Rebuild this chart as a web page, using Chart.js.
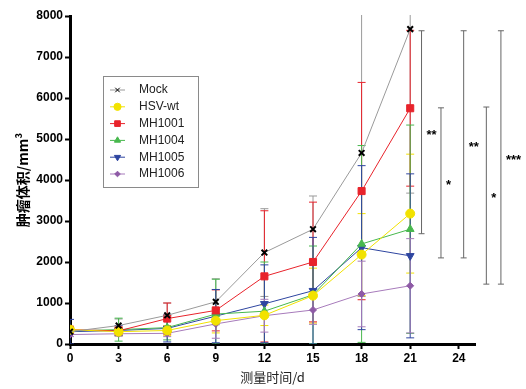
<!DOCTYPE html>
<html>
<head>
<meta charset="utf-8">
<script src="https://cdn.jsdelivr.net/npm/chart.js@4.4.1/dist/chart.umd.min.js"></script>
<style>
  body { margin: 0; background: #fff; }
  #wrap { position: relative; width: 526px; height: 389px; }
</style>
</head>
<body>
<div id="wrap"><canvas id="tumorChart" width="526" height="389"></canvas></div>
<script>
// days of measurement
const days = [0, 3, 6, 9, 12, 15, 18, 21];
const xTicks = [0, 3, 6, 9, 12, 15, 18, 21, 24];

// mean tumour volume (mm3) per group
const mock   = [300, 450, 700, 1030, 2230, 2800, 4660, 7680];
const hsvWt  = [350, 300, 330, 570, 700, 1180, 2180, 3180];
const mh1001 = [350, 320, 620, 820, 1650, 2000, 3730, 5750];
const mh1004 = [320, 350, 400, 730, 800, 1200, 2440, 2800];
const mh1005 = [300, 330, 380, 680, 980, 1300, 2350, 2150];
const mh1006 = [230, 250, 260, 490, 690, 830, 1220, 1420];

// standard deviations
const mockSd   = [60, 160, 300, 560, 1070, 810, 3500, 4000];
const hsvWtSd  = [50, 100, 120, 300, 250, 670, 1000, 1450];
const mh1001Sd = [80, 100, 380, 500, 1600, 1460, 2650, 1900];
const mh1004Sd = [60, 280, 300, 850, 1200, 1190, 2400, 2540];
const mh1005Sd = [300, 120, 330, 650, 950, 1300, 2000, 2000];
const mh1006Sd = [50, 60, 80, 350, 400, 350, 800, 1150];

// significance brackets (x in days, y in mm3)
const sigX      = [21.7, 22.9, 24.3, 25.7, 26.6];
const sigTop    = [7640, 5760, 7640, 5780, 7640];
const sigBottom = [2690, 2100, 2100, 1460, 1460];
const sigLabel  = ["**", "*", "**", "*", "***"];

const groups = [
  { label: "Mock",   values: mock,   sd: mockSd,   line: "#9a9a9a", mark: "#000000", style: "crossRot", r: 4 },
  { label: "HSV-wt", values: hsvWt,  sd: hsvWtSd,  line: "#f2e200", mark: "#f2e200", style: "circle",   r: 4.5 },
  { label: "MH1001", values: mh1001, sd: mh1001Sd, line: "#e8232b", mark: "#e8232b", style: "rect",     r: 5 },
  { label: "MH1004", values: mh1004, sd: mh1004Sd, line: "#48b84e", mark: "#48b84e", style: "triangle", r: 4.5 },
  { label: "MH1005", values: mh1005, sd: mh1005Sd, line: "#2e45a0", mark: "#2e45a0", style: "triangle", r: 4.5, rot: 180 },
  { label: "MH1006", values: mh1006, sd: mh1006Sd, line: "#a77bbb", mark: "#8e5aa6", style: "rectRot",  r: 3.5 }
];

const datasets = groups.map(g => ({
  label: g.label,
  data: days.map((d, i) => ({ x: d, y: g.values[i] })),
  sd: g.sd,
  borderColor: g.line,
  backgroundColor: g.mark,
  pointBorderColor: g.mark,
  pointBackgroundColor: g.mark,
  pointStyle: g.style,
  pointRadius: g.r,
  pointRotation: g.rot || 0,
  pointBorderWidth: g.style === "crossRot" ? 2 : 1,
  borderWidth: 1,
  tension: 0
}));

// error bars under the points
const errorBars = {
  id: "errorBars",
  beforeDatasetsDraw(chart) {
    const { ctx, chartArea, scales: { x, y } } = chart;
    ctx.save();
    ctx.beginPath();
    ctx.rect(chartArea.left, chartArea.top - 1, chartArea.width, chartArea.height + 1);
    ctx.clip();
    chart.data.datasets.forEach(ds => {
      ctx.strokeStyle = ds.borderColor;
      ctx.lineWidth = 1;
      ds.data.forEach((p, i) => {
        const px = x.getPixelForValue(p.x);
        const top = y.getPixelForValue(p.y + ds.sd[i]);
        const bot = y.getPixelForValue(Math.max(0, p.y - ds.sd[i]));
        ctx.beginPath();
        ctx.moveTo(px, top); ctx.lineTo(px, bot);
        ctx.moveTo(px - 4, top); ctx.lineTo(px + 4, top);
        ctx.moveTo(px - 4, bot); ctx.lineTo(px + 4, bot);
        ctx.stroke();
      });
    });
    ctx.restore();
  }
};

// legend box and significance brackets
const extras = {
  id: "extras",
  afterDraw(chart) {
    const { ctx, scales: { x, y } } = chart;
    ctx.save();
    // legend
    ctx.strokeStyle = "#8a8a8a";
    ctx.lineWidth = 1;
    ctx.strokeRect(103.5, 76.5, 95, 111);
    ctx.font = "12px 'Liberation Sans', Arial, sans-serif";
    ctx.textBaseline = "middle";
    chart.data.datasets.forEach((ds, i) => {
      const ly = 90 + i * 16.8;
      ctx.strokeStyle = ds.borderColor;
      ctx.lineWidth = 1;
      ctx.beginPath(); ctx.moveTo(110, ly); ctx.lineTo(125, ly); ctx.stroke();
      ctx.fillStyle = ds.pointBackgroundColor;
      ctx.strokeStyle = ds.pointBorderColor;
      Chart.helpers.drawPoint(ctx, {
        pointStyle: ds.pointStyle, radius: ds.pointRadius * 0.8, rotation: ds.pointRotation,
        borderWidth: ds.pointBorderWidth
      }, 117.5, ly);
      ctx.fillStyle = "#222";
      ctx.fillText(ds.label, 139, ly);
    });
    // significance brackets
    ctx.strokeStyle = "#666";
    ctx.lineWidth = 1;
    ctx.fillStyle = "#000";
    ctx.font = "bold 13px 'Liberation Sans', Arial, sans-serif";
    ctx.textAlign = "left";
    sigX.forEach((sx, i) => {
      const px = x.getPixelForValue(sx);
      const t = y.getPixelForValue(sigTop[i]);
      const b = y.getPixelForValue(sigBottom[i]);
      ctx.beginPath();
      ctx.moveTo(px, t); ctx.lineTo(px, b);
      ctx.moveTo(px - 3, t); ctx.lineTo(px + 3, t);
      ctx.moveTo(px - 3, b); ctx.lineTo(px + 3, b);
      ctx.stroke();
      ctx.fillText(sigLabel[i], px + 5, (t + b) / 2 + 3);
    });
    ctx.restore();
  }
};

new Chart(document.getElementById("tumorChart"), {
  type: "line",
  data: { datasets },
  plugins: [errorBars, extras],
  options: {
    responsive: false,
    animation: false,
    layout: { padding: { top: 16, right: 51, left: 10, bottom: 0 } },
    plugins: { legend: { display: false }, tooltip: { enabled: false } },
    scales: {
      x: {
        type: "linear",
        min: 0,
        max: 25,
        afterBuildTicks: s => { s.ticks = xTicks.map(v => ({ value: v })); },
        ticks: { color: "#000", font: { size: 12, weight: "bold", family: "'Liberation Sans', Arial" }, padding: 2 },
        grid: { drawOnChartArea: false, tickLength: 5, tickWidth: 2, tickColor: "#000" },
        border: { color: "#000", width: 3 },
        title: { display: true, text: "测量时间/d", color: "#222", font: { size: 13, family: "'Noto Sans CJK SC'" }, padding: { top: 6 } },
        afterFit: s => { s.height = 45; }
      },
      y: {
        min: 0,
        max: 8000,
        ticks: { stepSize: 1000, color: "#000", font: { size: 12, weight: "bold", family: "'Liberation Sans', Arial" }, padding: 2, callback: v => String(v) },
        grid: { drawOnChartArea: false, tickLength: 5, tickWidth: 2, tickColor: "#000" },
        border: { color: "#000", width: 3 },
        title: { display: true, text: "肿瘤体积/mm³", color: "#000", font: { size: 14, weight: "bold", family: "'Noto Sans CJK SC'" }, padding: { bottom: 2 } },
        afterFit: s => { s.width = 60; }
      }
    }
  }
});
</script>
</body>
</html>
